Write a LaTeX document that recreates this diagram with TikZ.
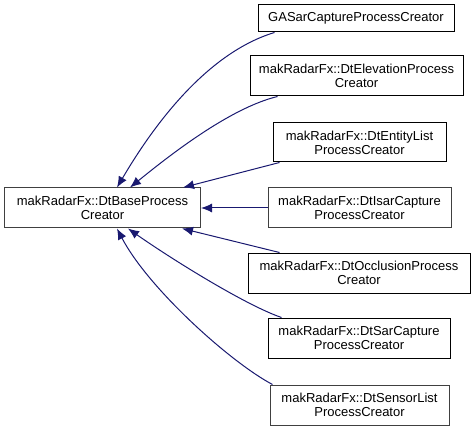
\documentclass[tikz,border=0pt]{standalone}
\usepackage{fontspec}
\setmainfont{Liberation Sans}
\usetikzlibrary{arrows.meta,calc}
\definecolor{edgeblue}{RGB}{25,25,112}
\definecolor{boxgray}{RGB}{64,64,64}
\begin{document}
\begin{tikzpicture}[x=1pt,y=-1pt,
  cls/.style={draw=black,line width=1pt,fill=white,rectangle,inner sep=0pt,align=center,
    font=\fontsize{13}{14}\selectfont},
  edge/.style={draw=edgeblue,line width=1pt,{Latex[length=11pt,width=9pt]}-}]
\useasboundingbox (0,0) rectangle (476,430);
\node[cls,draw=boxgray,minimum width=196pt,minimum height=40pt] (base) at (102.5,208) {makRadarFx::DtBaseProcess\\Creator};
\node[cls,minimum width=196pt,minimum height=27pt] (n1) at (356,18.5) {GASarCaptureProcessCreator};
\node[cls,minimum width=213pt,minimum height=40pt] (n2) at (356.5,76) {makRadarFx::DtElevationProcess\\Creator};
\node[cls,minimum width=173pt,minimum height=39pt] (n3) at (359.5,142.5) {makRadarFx::DtEntityList\\ProcessCreator};
\node[cls,draw=boxgray,minimum width=183pt,minimum height=40pt] (n4) at (359.5,208) {makRadarFx::DtIsarCapture\\ProcessCreator};
\node[cls,minimum width=222pt,minimum height=40pt] (n5) at (359,273) {makRadarFx::DtOcclusionProcess\\Creator};
\node[cls,minimum width=182pt,minimum height=40pt] (n6) at (359,338) {makRadarFx::DtSarCapture\\ProcessCreator};
\node[cls,draw=boxgray,minimum width=179pt,minimum height=40pt] (n7) at (359.5,405) {makRadarFx::DtSensorList\\ProcessCreator};
% top edges
\draw[edge] ($(base.north west)+(113,0)$) .. controls (145,140) and (200,55) .. ($(n1.south west)+(17,0)$);
\draw[edge] ($(base.north west)+(126,0)$) .. controls (170,155) and (230,108) .. ($(n2.south west)+(28,0)$);
\draw[edge] ($(base.north west)+(179,0)$) -- ($(n3.south west)+(7,0)$);
\draw[edge] (base.east) -- (n4.west);
% bottom edges
\draw[edge] ($(base.south west)+(178,0)$) -- ($(n5.north west)+(32,0)$);
\draw[edge] ($(base.south west)+(124,0)$) .. controls (170,258) and (245,305) .. ($(n6.north west)+(14,0)$);
\draw[edge] ($(base.south west)+(113,0)$) .. controls (148,288) and (230,362) .. ($(n7.north west)+(3,0)$);
\end{tikzpicture}
\end{document}
